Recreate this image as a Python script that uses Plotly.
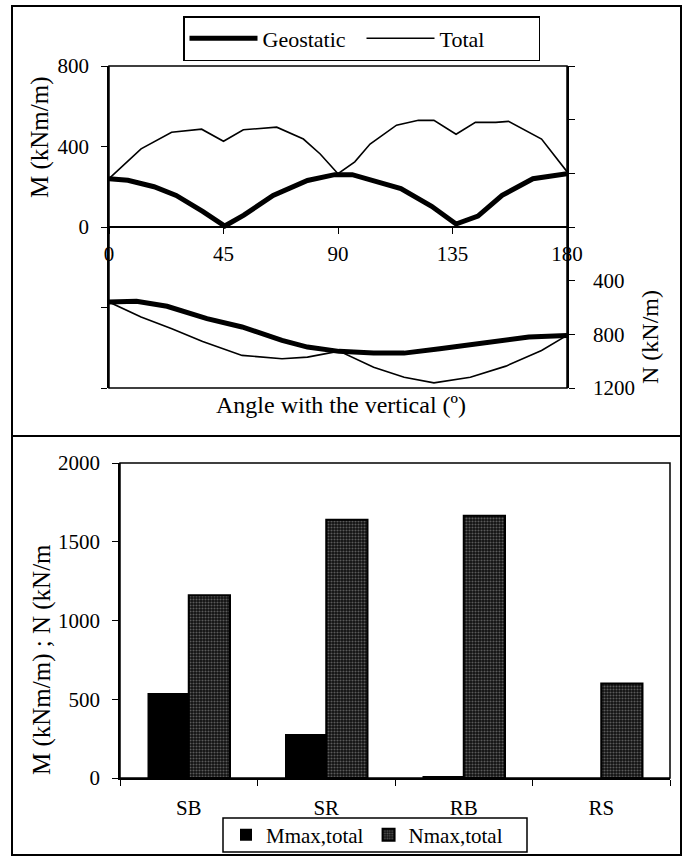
import plotly.graph_objects as go

W, H = 688, 856
def fx(px): return px / W
def fy(py): return 1 - py / H

# ---- data: top chart (bending moment M and axial force N vs angle) ----
angle_geo_M = [0, 7.4, 17.7, 26.4, 36.8, 45.5, 53, 64.5, 78, 88.7, 95.6, 104, 114.7, 126.8, 136.4, 145, 154.5, 166.6, 180]
geo_M = [240, 232, 200, 157, 78, 5, 59, 157, 231, 260, 260, 231, 191, 103, 15, 54, 157, 240, 265]
angle_tot_M = [0, 12.6, 24.6, 36.4, 45, 52.8, 65.9, 76.4, 83, 90, 96.6, 102.6, 113, 121.6, 127.7, 136.4, 144, 152, 157, 170, 180]
tot_M = [240, 388, 471, 486, 426, 483, 496, 437, 363, 265, 324, 412, 506, 530, 530, 461, 520, 520, 525, 437, 275]

angle_geo_N = [0, 10.8, 22.8, 38.5, 52.3, 68, 78, 90.4, 104, 116, 130, 144, 153, 165, 180]
geo_N = [559, 553, 591, 683, 745, 845, 895, 927, 940, 940, 907, 870, 850, 820, 808]
angle_tot_N = [0, 12.6, 24.7, 36.8, 52.3, 68, 78, 90.4, 104, 116, 127.7, 142, 156, 170, 180]
tot_N = [559, 671, 758, 853, 957, 982, 970, 925, 1045, 1120, 1162, 1120, 1037, 920, 808]

angle_ticks = [0, 45, 90, 135, 180]
M_ticks = [-800, -400, 0, 400, 800]
M_labels = ["", "", "0", "400", "800"]
N_ticks = [-1200, -800, -400, 0, 400, 800, 1200]
N_labels = ["", "", "", "", "400", "800", "1200"]

# ---- data: bottom chart ----
cases = ["SB", "SR", "RB", "RS"]
Mmax_total = [540, 280, 10, 0]
Nmax_total = [1160, 1640, 1665, 600]

FONT = "Liberation Serif"
fig = go.Figure()

# top chart lines
fig.add_trace(go.Scatter(x=angle_geo_M, y=geo_M, mode="lines", name="Geostatic",
                         line=dict(color="black", width=5), xaxis="x", yaxis="y", legend="legend"))
fig.add_trace(go.Scatter(x=angle_tot_M, y=tot_M, mode="lines", name="Total",
                         line=dict(color="black", width=1.6), xaxis="x", yaxis="y", legend="legend"))
fig.add_trace(go.Scatter(x=angle_geo_N, y=geo_N, mode="lines", name="Geostatic", showlegend=False,
                         line=dict(color="black", width=5), xaxis="x", yaxis="y2"))
fig.add_trace(go.Scatter(x=angle_tot_N, y=tot_N, mode="lines", name="Total", showlegend=False,
                         line=dict(color="black", width=1.6), xaxis="x", yaxis="y2"))

# bottom chart bars
fig.add_trace(go.Bar(x=cases, y=Mmax_total, name="Mmax,total", xaxis="x3", yaxis="y3",
                     marker=dict(color="black", line=dict(color="black", width=0)), legend="legend2"))
fig.add_trace(go.Bar(x=cases, y=Nmax_total, name="Nmax,total", xaxis="x3", yaxis="y3",
                     marker=dict(color="#1a1a1a",
                                 pattern=dict(shape=".", fgcolor="#5a5a5a", bgcolor="#101010",
                                              size=3, solidity=0.4, fillmode="replace"),
                                 line=dict(color="black", width=2)),
                     legend="legend2"))

top_dom = [fy(388), fy(66)]
bot_dom = [fy(778), fy(463)]
tick_font = dict(family=FONT, size=21, color="black")

fig.update_layout(
    width=W, height=H,
    margin=dict(l=0, r=0, t=0, b=0, autoexpand=False),
    paper_bgcolor="white", plot_bgcolor="white",
    font=dict(family=FONT, size=21, color="black"),
    barmode="group", bargap=0.4, bargroupgap=0,
    xaxis=dict(domain=[fx(109), fx(567)], range=[0, 180], tickvals=angle_ticks,
               anchor="free", position=top_dom[0] + 0.5 * (top_dom[1] - top_dom[0]),
               showline=True, linecolor="black", linewidth=1.5, ticks="outside", ticklen=6,
               tickcolor="black", tickfont=tick_font, ticklabelstandoff=2,
               showgrid=False, zeroline=False),
    yaxis=dict(domain=top_dom, range=[-800, 800], tickvals=M_ticks, ticktext=M_labels,
               anchor="x", showline=True, linecolor="black", linewidth=1.5,
               ticks="outside", ticklen=6, tickcolor="black", tickfont=tick_font,
               ticklabelstandoff=8, showgrid=False, zeroline=False),
    yaxis2=dict(overlaying="y", side="right", anchor="x", range=[1200, -1200],
                tickvals=N_ticks, ticktext=N_labels, showline=True, linecolor="black",
                linewidth=1.5, ticks="outside", ticklen=6, tickcolor="black",
                tickfont=tick_font, ticklabelstandoff=14, showgrid=False, zeroline=False),
    xaxis3=dict(domain=[fx(120), fx(670)], anchor="y3", type="category",
                showline=True, linecolor="black", linewidth=1.5, ticks="outside",
                tickson="boundaries", ticklen=6, tickcolor="black", tickfont=tick_font,
                ticklabelstandoff=10, showgrid=False),
    yaxis3=dict(domain=bot_dom, anchor="x3", range=[0, 2000], dtick=500,
                showline=True, linecolor="black", linewidth=1.5, ticks="outside",
                ticklen=6, tickcolor="black", tickfont=tick_font, ticklabelstandoff=8,
                showgrid=False, zeroline=False),
    legend=dict(x=fx(183), y=fy(16), xanchor="left", yanchor="top", orientation="h",
                bordercolor="black", borderwidth=1.5, bgcolor="white",
                font=dict(family=FONT, size=22), entrywidth=94, itemwidth=68,
                tracegroupgap=0),
    legend2=dict(x=fx(226), y=fy(835), xanchor="left", yanchor="middle", orientation="h",
                 borderwidth=0, bgcolor="rgba(0,0,0,0)",
                 font=dict(family=FONT, size=21), itemwidth=30, tracegroupgap=0),
    showlegend=True,
)

shapes = []
# panel borders
shapes.append(dict(type="rect", xref="paper", yref="paper", x0=fx(12), x1=fx(681), y0=fy(436), y1=fy(6),
                   line=dict(color="black", width=2)))
shapes.append(dict(type="rect", xref="paper", yref="paper", x0=fx(12), x1=fx(681), y0=fy(855), y1=fy(436),
                   line=dict(color="black", width=2)))
# plot-area frames
shapes.append(dict(type="rect", xref="x domain", yref="y domain", x0=0, x1=1, y0=0, y1=1,
                   line=dict(color="black", width=1.5)))
shapes.append(dict(type="rect", xref="x3 domain", yref="y3 domain", x0=0, x1=1, y0=0, y1=1,
                   line=dict(color="black", width=1.5)))
# bottom legend frame
shapes.append(dict(type="rect", xref="paper", yref="paper", x0=fx(223), x1=fx(527), y0=fy(852), y1=fy(818),
                   line=dict(color="black", width=1.5)))
fig.update_layout(shapes=shapes)

ann = []
ann.append(dict(text="M (kNm/m)", x=fx(40), y=fy(137), xref="paper", yref="paper", textangle=-90,
                xanchor="center", yanchor="middle", showarrow=False, font=dict(family=FONT, size=25)))
ann.append(dict(text="N (kN/m)", x=fx(650), y=fy(337), xref="paper", yref="paper", textangle=-90,
                xanchor="center", yanchor="middle", showarrow=False, font=dict(family=FONT, size=24)))
ann.append(dict(text="Angle with the vertical (º)", x=fx(341), y=fy(405), xref="paper", yref="paper",
                xanchor="center", yanchor="middle", showarrow=False, font=dict(family=FONT, size=24)))
ann.append(dict(text="M (kNm/m) ; N (kN/m", x=fx(42), y=fy(660), xref="paper", yref="paper",
                textangle=-90, xanchor="center", yanchor="middle", showarrow=False,
                font=dict(family=FONT, size=25)))
fig.update_layout(annotations=ann)

fig.write_html("out.html")
